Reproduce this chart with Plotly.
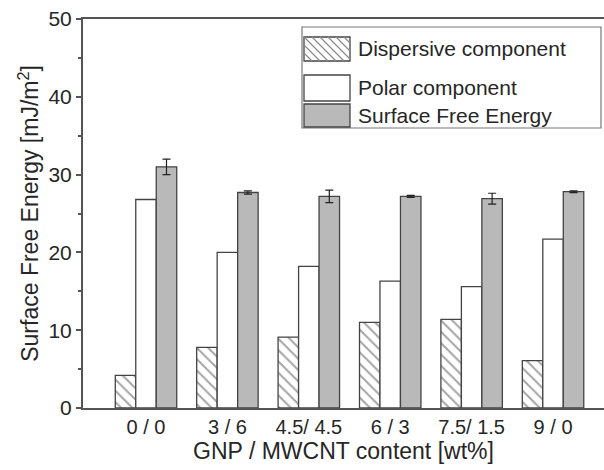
import plotly.graph_objects as go

categories = ["0 / 0", "3 / 6", "4.5/ 4.5", "6 / 3", "7.5/ 1.5", "9 / 0"]
dispersive = [4.2, 7.8, 9.1, 11.0, 11.4, 6.1]
polar = [26.8, 20.0, 18.2, 16.3, 15.6, 21.7]
sfe = [31.0, 27.7, 27.2, 27.2, 26.9, 27.8]
sfe_err = [1.0, 0.2, 0.8, 0.12, 0.7, 0.12]
series_names = ["Dispersive component", "Polar component", "Surface Free Energy"]
y_title = "Surface Free Energy [mJ/m<sup>2</sup>]"
x_title = "GNP / MWCNT content [wt%]"

FONT = "Liberation Sans, Arial, sans-serif"
TXT = "#262626"
EDGE = "#444444"
GREY = "#b9b9b9"

W, H = 604, 470
ML, MR, MT, MB = 83, 0, 19, 62
PW, PH = W - ML - MR, H - MT - MB


def px(x):
    return (x - ML) / PW


def py(y):
    return (H - MB - y) / PH


fig = go.Figure()
fig.add_trace(go.Bar(
    x=categories, y=dispersive, name=series_names[0], showlegend=False,
    marker=dict(color="white", line=dict(color=EDGE, width=1.3),
                pattern=dict(shape="\\", size=8, solidity=0.25, fgcolor="#4a4a4a", bgcolor="white")),
))
fig.add_trace(go.Bar(
    x=categories, y=polar, name=series_names[1], showlegend=False,
    marker=dict(color="white", line=dict(color=EDGE, width=1.3)),
))
fig.add_trace(go.Bar(
    x=categories, y=sfe, name=series_names[2], showlegend=False,
    marker=dict(color=GREY, line=dict(color=EDGE, width=1.3)),
    error_y=dict(type="data", array=sfe_err, color="#222222", thickness=1.2, width=4),
))

# custom legend (decoration)
shapes = []
shapes.append(dict(type="rect", xref="paper", yref="paper",
                   x0=px(302), x1=px(601), y0=py(128), y1=py(27),
                   line=dict(color="#777777", width=1.2), fillcolor="rgba(0,0,0,0)"))
sw_x0, sw_x1 = 304, 350
rows = [(37, 61), (75, 101), (104, 127)]
fills = ["white", "white", GREY]
for (y0, y1), f in zip(rows, fills):
    shapes.append(dict(type="rect", xref="paper", yref="paper",
                       x0=px(sw_x0), x1=px(sw_x1), y0=py(y1), y1=py(y0),
                       line=dict(color=EDGE, width=1.3), fillcolor=f, layer="above"))
# hatch lines for first swatch
y0, y1 = rows[0]
path = ""
k = sw_x0 - y1
while k < sw_x1 - y0:
    xa = max(sw_x0, y0 + k)
    xb = min(sw_x1, y1 + k)
    if xb > xa:
        path += f"M{px(xa)},{py(xa - k)} L{px(xb)},{py(xb - k)} "
    k += 8
shapes.append(dict(type="path", xref="paper", yref="paper", path=path,
                   line=dict(color="#8a8a8a", width=1.2)))

annotations = []
for (y0, y1), name in zip(rows, series_names):
    annotations.append(dict(xref="paper", yref="paper", x=px(356), y=py((y0 + y1) / 2),
                            text=name, showarrow=False, xanchor="left", yanchor="middle",
                            font=dict(family=FONT, size=21, color=TXT)))

fig.update_layout(
    width=W, height=H,
    margin=dict(l=ML, r=MR, t=MT, b=MB),
    paper_bgcolor="white", plot_bgcolor="white",
    barmode="group", bargap=0.245, bargroupgap=0,
    font=dict(family=FONT, size=20, color=TXT),
    shapes=shapes, annotations=annotations,
    showlegend=False,
)
fig.update_xaxes(
    range=[-0.774, 5.626], showline=True, linecolor="#555555", linewidth=2, mirror=True,
    ticks="", showgrid=False, zeroline=False,
    tickfont=dict(family=FONT, size=20, color=TXT),
    title=dict(text=x_title, font=dict(family=FONT, size=23, color=TXT), standoff=2),
)
fig.update_yaxes(
    range=[0, 50], dtick=10, showline=True, linecolor="#555555", linewidth=2,
    ticks="outside", ticklen=5, tickcolor="#555555", tickwidth=1.5,
    minor=dict(dtick=5, ticks="outside", ticklen=3, tickcolor="#555555"),
    showgrid=False, zeroline=False,
    tickfont=dict(family=FONT, size=21, color=TXT),
    title=dict(text=y_title, font=dict(family=FONT, size=23, color=TXT), standoff=3),
)

fig.write_html("out.html", config={"displayModeBar": False},
               post_script="document.body.style.margin='0';")
